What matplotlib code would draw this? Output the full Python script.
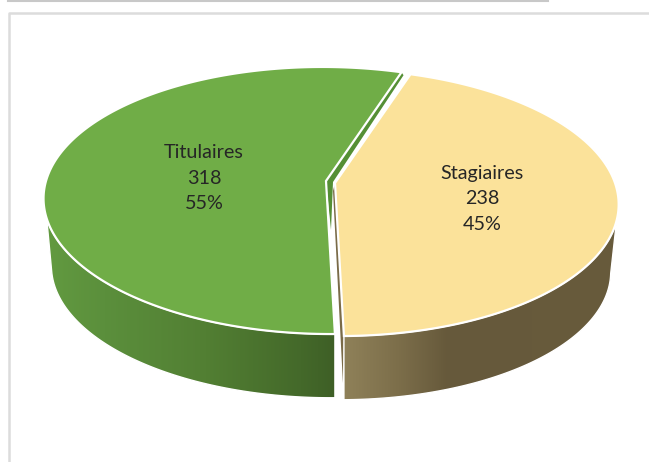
import numpy as np
import matplotlib
matplotlib.use('Agg')
import matplotlib.pyplot as plt
from matplotlib.colors import LinearSegmentedColormap
from matplotlib.patches import Polygon

labels = ['Titulaires', 'Stagiaires']
counts = [318, 238]
shares = [55, 45]
# the slices are drawn a little off the printed percentages
slice_pct = [55.4, 44.6]

top_colors = ['#70AD47', '#FBE29A']
face_colors = ['#558F35', '#7A6B48']
wall_colors = [[(0, '#629A40'), (0.2, '#5B8F3C'), (0.55, '#527F33'), (0.88, '#44692A'), (1, '#3E5F26')],
               [(0, '#8F8159'), (0.2, '#7C6E4A'), (0.38, '#66593B'), (1, '#685B3C')]]
wall_ends = [(196, 190), (344, 350)]
text_color = '#262626'

start_angle = 71.3
apex = [(326, 181), (335, 183)]
text_pos = [(204, 178), (482, 199)]

rx, ry = 280, 130.7
persp = 0.146
shear = -4
depth = 68
shrink = 0.972


def rim(t, c, s=1.0, dy=0):
    t = np.radians(t)
    w = 1 + persp * np.sin(t)
    X = np.cos(t) / w
    Y = np.sin(t) / w
    return np.column_stack([c[0] + s * (rx * X + shear * Y), c[1] + dy - s * ry * Y])


def wall(ax, t_split, c, colors, ends):
    top = rim(np.linspace(ends[0], t_split, 200), c)
    low = rim(np.linspace(t_split, ends[1], 200), c, shrink, depth)
    # keep the cut edge at the front vertical
    low[0, 0] = top[-1, 0]
    pts = np.vstack([top, low])
    x0, x1 = pts[:, 0].min(), pts[:, 0].max()
    cmap = LinearSegmentedColormap.from_list('w', colors)
    im = ax.imshow(np.linspace(0, 1, 256).reshape(1, -1), cmap=cmap, aspect='auto',
                   extent=(x0, x1, pts[:, 1].max(), pts[:, 1].min()), zorder=2)
    im.set_clip_path(Polygon(pts, closed=True, transform=ax.transData))
    ax.add_patch(Polygon(pts, closed=True, fill=False, ec='white', lw=1.0, zorder=3))


fig = plt.figure(figsize=(6.49, 4.62), dpi=100)
ax = fig.add_axes([0, 0, 1, 1])

# frame of the screenshot
ax.plot([8, 548], [0.5, 0.5], color='#c8c8c8', lw=1.5)
ax.plot([8.5, 8.5, 649], [462, 12.5, 12.5], color='#dcdcdc', lw=1.8)

angles = np.cumsum([start_angle] + [v * 3.6 for v in slice_pct])

# inner cut faces
p = rim(angles[0], apex[0])[0]
ax.add_patch(Polygon([p, apex[0], (apex[0][0] + 5, apex[0][1] + 49),
                      (apex[0][0] + 7, apex[0][1] + 1), p + (2, 3)],
                     closed=True, fc=face_colors[0], ec='none', zorder=1))
p = rim(angles[1], apex[1])[0]
ax.add_patch(Polygon([apex[1], (apex[1][0] - 2, apex[1][1] + 8), p + (-1, 47), p + (0, 0)],
                     closed=True, fc=face_colors[1], ec='none', zorder=1))

# outer walls, front part only
wall(ax, angles[1], apex[0], wall_colors[0], wall_ends[0])
wall(ax, angles[1], apex[1], wall_colors[1], wall_ends[1])

# top faces
for i in range(2):
    ts = np.linspace(angles[i], angles[i + 1], 300)
    pts = np.vstack([apex[i], rim(ts, apex[i])])
    ax.add_patch(Polygon(pts, closed=True, fc=top_colors[i], ec='white', lw=1.6, zorder=4))
    ax.text(text_pos[i][0], text_pos[i][1], f'{labels[i]}\n{counts[i]}\n{shares[i]}%',
            ha='center', va='center', fontsize=14.2, family='Lato', color=text_color,
            linespacing=1.62, zorder=5)

ax.set_xlim(0, 649)
ax.set_ylim(462, 0)
ax.axis('off')
plt.savefig('out.png', dpi=100)
